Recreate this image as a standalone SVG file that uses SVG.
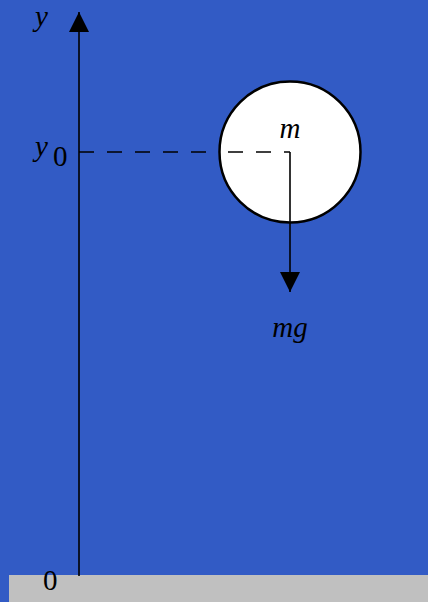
<svg xmlns="http://www.w3.org/2000/svg" width="428" height="602" viewBox="0 0 428 602">
<style>
.t{font-family:"Liberation Serif","Times New Roman",serif;font-size:29px;fill:#000}
.i{font-style:italic}
.ln{stroke:#000;stroke-width:1.6;fill:none}
</style>
<defs>
<marker id="ah" markerWidth="20" markerHeight="20" refX="20" refY="10" orient="auto" markerUnits="userSpaceOnUse" viewBox="0 0 20 20">
<path d="M0,0 L20,10 L0,20 Z" fill="#000"/>
</marker>
</defs>
<rect width="428" height="602" fill="#325BC5"/>
<rect id="ground" x="9" y="575" width="419" height="27" fill="#C0C0C0"/>
<g id="connectors">
<line class="ln" x1="79" y1="576" x2="79" y2="12" marker-end="url(#ah)"/>
<line class="ln" x1="79" y1="152" x2="220" y2="152" stroke-dasharray="15 13"/>
</g>
<g id="mass">
<circle cx="290" cy="152" r="70.5" fill="#fff" stroke="#000" stroke-width="2.5"/>
<text class="t i" x="290" y="138" text-anchor="middle">m</text>
</g>
<g id="mass-connectors">
<line class="ln" x1="220" y1="152" x2="290" y2="152" stroke-dasharray="15 13" stroke-dashoffset="-8"/>
<line class="ln" x1="290" y1="152" x2="290" y2="292" marker-end="url(#ah)"/>
</g>
<g id="labels">
<text class="t i" x="35" y="26">y</text>
<text class="t i" x="35" y="156">y</text>
<text class="t" x="53" y="166" font-size="18">0</text>
<text class="t i" x="290" y="337" text-anchor="middle">mg</text>
<text class="t" x="43" y="590" font-size="28">0</text>
</g>
</svg>
